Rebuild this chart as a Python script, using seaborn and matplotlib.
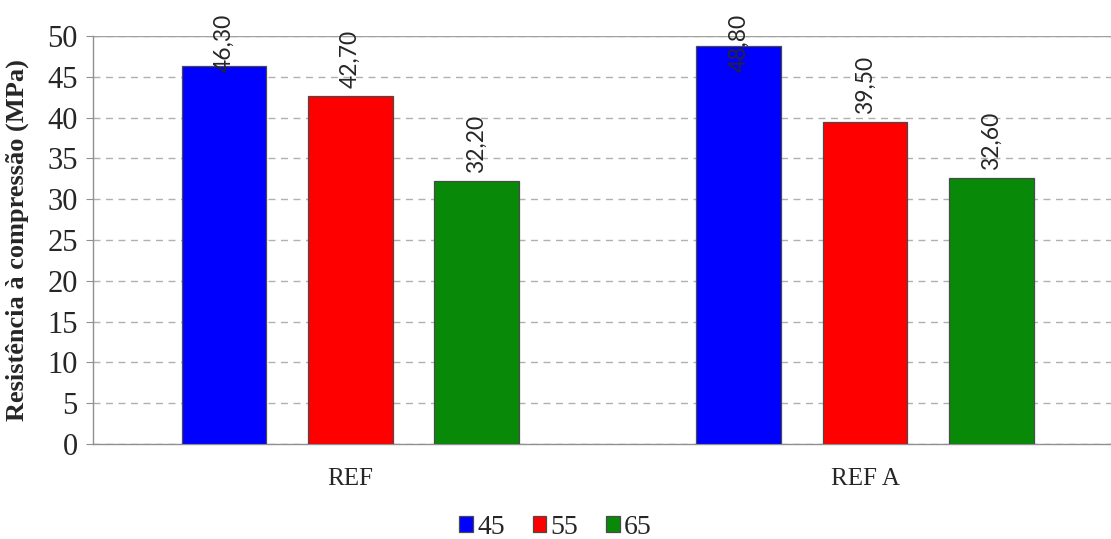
import matplotlib
matplotlib.use("Agg")
import matplotlib.pyplot as plt
import seaborn as sns
import pandas as pd

categories = ["REF", "REF A"]
series = ["45", "55", "65"]
values_45 = [46.30, 48.80]
values_55 = [42.70, 39.50]
values_65 = [32.20, 32.60]
colors = ["#0000FF", "#FF0000", "#088A08"]

rows = []
for s, vals in zip(series, [values_45, values_55, values_65]):
    for c, v in zip(categories, vals):
        rows.append({"Mistura": c, "a/c": s, "valor": v})
df = pd.DataFrame(rows)

sns.set_style("white")
plt.rcParams["font.family"] = ["Liberation Serif", "DejaVu Serif"]

fig = plt.figure(figsize=(11.11, 5.39), dpi=100)
ax = fig.add_axes([93 / 1111, 1 - 444 / 539, (1111 - 93) / 1111, (444 - 36) / 539])

sns.barplot(data=df, x="Mistura", y="valor", hue="a/c", hue_order=series,
            palette=colors, width=0.737, gap=0.33, edgecolor="#4a4a4a",
            linewidth=0.9, saturation=1, ax=ax, legend=True, zorder=3)

ax.set_ylim(0, 50)
ax.set_xlim(-0.5, 1.5 - 11.5 / 515)
ax.set_yticks(range(0, 51, 5))
ax.yaxis.grid(True, linestyle=(0, (5, 4)), color="#b0b0b0", linewidth=1.0, zorder=0)
ax.axhline(50, color="#a0a0a0", linewidth=1.0, zorder=1)
for side in ["top", "right"]:
    ax.spines[side].set_visible(False)
for side in ["left", "bottom"]:
    ax.spines[side].set_color("#909090")
    ax.spines[side].set_linewidth(1.0)
ax.tick_params(axis="y", which="major", left=True, length=5, color="#909090",
               labelsize=22, pad=6)
ax.tick_params(axis="x", bottom=False, labelsize=18, pad=14)
ax.set_xlabel("")
ax.set_ylabel("Resistência à compressão (MPa)", fontsize=19, fontweight="bold")
ax.yaxis.set_label_coords(-64 / 1018, 0.5)

# value labels, rotated; tall bars keep their label inside the frame
fig.canvas.draw()
for container in ax.containers:
    for bar in container:
        v = bar.get_height()
        xc = bar.get_x() + bar.get_width() / 2
        label = f"{v:.2f}".replace(".", ",")
        if v > 44:
            fy = 1 - 14 / 539
            ax.annotate(label, xy=(xc, fy), xycoords=("data", "figure fraction"),
                        rotation=90, ha="center", va="top", fontsize=16.5,
                        family=["Lato", "DejaVu Sans"], zorder=5)
        else:
            ax.annotate(label, xy=(xc, v), xytext=(0, 8), textcoords="offset pixels",
                        rotation=90, ha="center", va="bottom", fontsize=16.5,
                        family=["Lato", "DejaVu Sans"], zorder=5)

handles, labels = ax.get_legend_handles_labels()
ax.get_legend().remove()
fig.legend(handles, labels, loc="center", bbox_to_anchor=(0.5, 1 - 527 / 539),
           ncol=3, frameon=False, fontsize=20, handlelength=0.5, handleheight=0.5,
           handletextpad=0.15, columnspacing=1.0)

fig.savefig("out.png", dpi=100)
